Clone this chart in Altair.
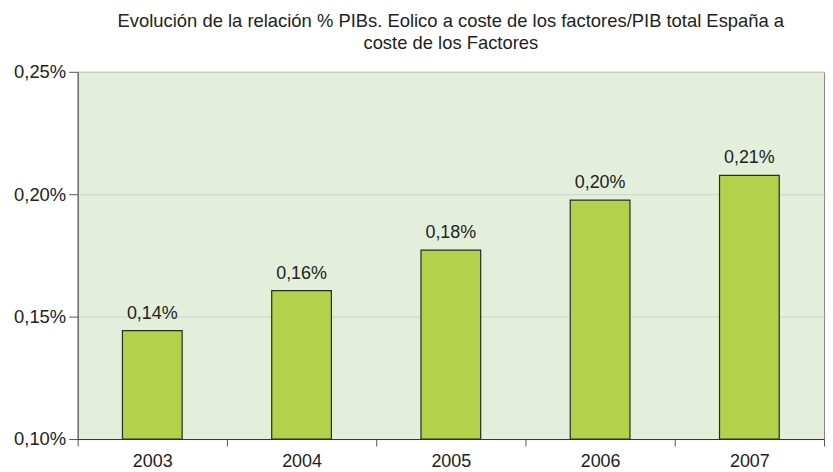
import altair as alt
import pandas as pd

years = ["2003", "2004", "2005", "2006", "2007"]
values = [0.1443, 0.1606, 0.1772, 0.1976, 0.2077]
y_ticks = [0.10, 0.15, 0.20, 0.25]
title_lines = ["Evolución de la relación % PIBs. Eolico a coste de los factores/PIB total España a",
               "coste de los Factores"]

df = pd.DataFrame({"year": years, "value": values})
df["label"] = [f"{v:.2f}".replace(".", ",") + "%" for v in values]

FONT = "Liberation Sans"

x = alt.X("year:N", title=None, sort=years,
          scale=alt.Scale(paddingInner=0, paddingOuter=0),
          axis=alt.Axis(labelAngle=0, labelFontSize=18, labelColor="#222",
                        labelFont=FONT, tickBand="extent", tickSize=7,
                        tickColor="#555", domainColor="#333", labelPadding=7))
y = alt.Y("value:Q", title=None,
          scale=alt.Scale(domain=[0.10, 0.25], nice=False, zero=False, clamp=True),
          axis=alt.Axis(values=y_ticks, tickSize=9, tickColor="#555", domainColor="#555",
                        labelFontSize=18.5, labelColor="#222", labelFont=FONT, labelPadding=3,
                        labelExpr="replace(format(datum.value, '.2f'), '.', ',') + '%'",
                        grid=True, gridColor="#cfcfcf", gridWidth=1))

bars = alt.Chart(df).mark_bar(color="#b3d14a", stroke="#2a2a2a", strokeWidth=1.2,
                              width=alt.RelativeBandSize(0.4)).encode(
    x=x, y=y, y2=alt.datum(0.10))

text = alt.Chart(df).mark_text(baseline="bottom", dy=-8, fontSize=18, font=FONT,
                               color="#222").encode(
    x=alt.X("year:N", sort=years), y="value:Q", text="label:N")

chart = alt.layer(bars, text).properties(
    width=750, height=369,
    padding={"left": 5, "top": 2, "right": 0, "bottom": 0},
    title=alt.Title(title_lines, fontSize=18.5, font=FONT, fontWeight="normal",
                    color="#222", anchor="middle", offset=10, lineHeight=23),
).configure(background="white"
).configure_view(fill="#e3efda", stroke="#888", strokeWidth=1)

chart.save("out.html", embed_options={"renderer": "svg", "actions": False})
